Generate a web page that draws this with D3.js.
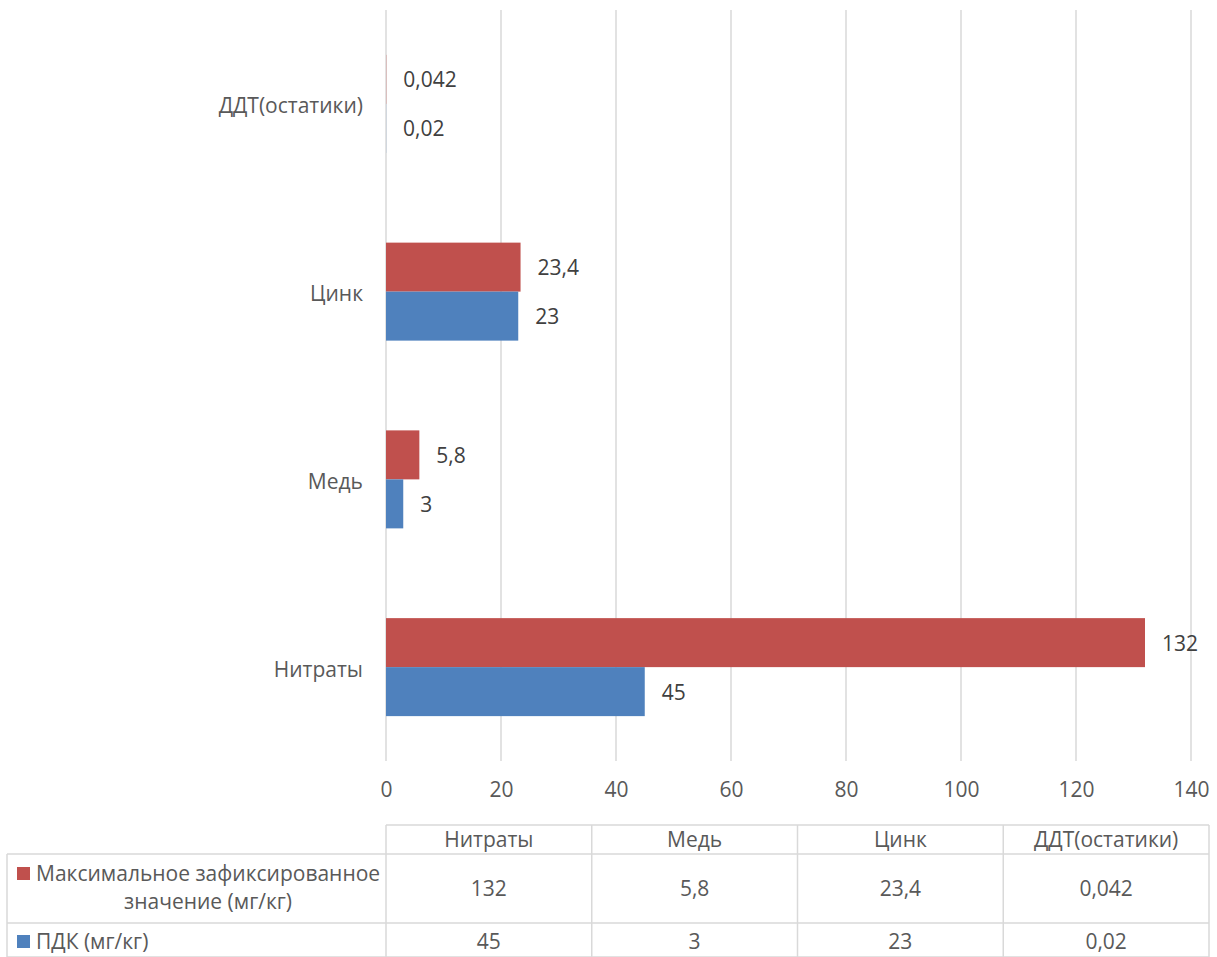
<!DOCTYPE html>
<html><head><meta charset="utf-8">
<script src="https://cdn.jsdelivr.net/npm/d3@7/dist/d3.min.js"></script>
<style>body{margin:0;background:#fff}svg{display:block;font-family:"Open Sans",sans-serif}</style>
</head><body><svg id="c" width="1217" height="957"></svg>
<script>
const categories = ["Нитраты","Медь","Цинк","ДДТ(остатики)"];
const seriesNames = ["Максимальное зафиксированное значение (мг/кг)","ПДК (мг/кг)"];
const maxValues = [132, 5.8, 23.4, 0.042];
const pdkValues = [45, 3, 23, 0.02];
const maxLabels = ["132","5,8","23,4","0,042"];
const pdkLabels = ["45","3","23","0,02"];
const xTicks = [0,20,40,60,80,100,120,140];
const colors = ["#C0504D","#4F81BD"];

(function(){
const svg = d3.select("#c");
const FS = 21;
const pL = 386, pR = 1191, pT = 10, pB = 761;
const x = d3.scaleLinear().domain([0,140]).range([pL,pR]);
const y0 = d3.scaleBand().domain(categories.slice().reverse()).range([pT,pB]);
const y1 = d3.scaleBand().domain([0,1]).range([0,y0.bandwidth()]).paddingOuter(0.916);

svg.append("g").selectAll("line").data(xTicks).join("line")
  .attr("x1",d=>x(d)).attr("x2",d=>x(d)).attr("y1",pT).attr("y2",pB)
  .attr("stroke","#D9D9D9").attr("stroke-width",1.5);

const xAxis = d3.axisBottom(x).tickValues(xTicks).tickSize(0).tickPadding(0);
const ax = svg.append("g").attr("transform",`translate(0,${pB})`).call(xAxis);
ax.select(".domain").remove();
ax.selectAll("text").attr("font-size",FS).attr("fill","#595959").attr("dy","0.35em").attr("y",29).style("font-family","Open Sans");

const yAxis = d3.axisLeft(y0).tickSize(0).tickPadding(23);
const ay = svg.append("g").attr("transform",`translate(${pL},0)`).call(yAxis);
ay.select(".domain").remove();
ay.selectAll("text").attr("font-size",FS).attr("fill","#595959").attr("dy","0.45em").style("font-family","Open Sans");

const data = categories.map((c,i)=>({c, vals:[maxValues[i],pdkValues[i]], labs:[maxLabels[i],pdkLabels[i]]}));
const g = svg.append("g");
data.forEach(d=>{
  [0,1].forEach(s=>{
    const yy = y0(d.c)+y1(s);
    g.append("rect").attr("x",x(0)).attr("y",yy).attr("width",x(d.vals[s])-x(0)).attr("height",y1.bandwidth())
      .attr("fill",colors[s]);
    g.append("text").attr("x",x(d.vals[s])+17).attr("y",yy+y1.bandwidth()/2).attr("dy","0.38em")
      .attr("font-size",FS).attr("fill","#404040").text(d.labs[s]);
  });
});

const tTop = 825, r1 = 854, r2 = 923, tBot = 957, tLeft = 7, tRight = 1209;
const colW = (tRight-pL)/categories.length;
const tc = "#D9D9D9";
const tg = svg.append("g").attr("stroke",tc).attr("stroke-width",1.5);
tg.append("line").attr("x1",pL).attr("x2",tRight).attr("y1",tTop).attr("y2",tTop);
[r1,r2].forEach(yv=>tg.append("line").attr("x1",tLeft).attr("x2",tRight).attr("y1",yv).attr("y2",yv));
tg.append("line").attr("x1",tLeft).attr("x2",tRight).attr("y1",tBot).attr("y2",tBot);
tg.append("line").attr("x1",tLeft).attr("x2",tLeft).attr("y1",r1).attr("y2",tBot);
d3.range(categories.length+1).forEach(i=>{
  tg.append("line").attr("x1",pL+i*colW).attr("x2",pL+i*colW).attr("y1",tTop).attr("y2",tBot);
});
const tt = svg.append("g").attr("font-size",FS).attr("fill","#595959").attr("text-anchor","middle");
categories.forEach((c,i)=>{
  const cx = pL+colW*(i+0.5);
  tt.append("text").attr("x",cx).attr("y",(tTop+r1)/2).attr("dy","0.35em").text(c);
  tt.append("text").attr("x",cx).attr("y",(r1+r2)/2).attr("dy","0.35em").text(maxLabels[i]);
  tt.append("text").attr("x",cx).attr("y",(r2+tBot)/2+2).attr("dy","0.35em").text(pdkLabels[i]);
});
svg.append("rect").attr("x",17).attr("y",867).attr("width",13).attr("height",13).attr("fill",colors[0]);
svg.append("rect").attr("x",17).attr("y",935).attr("width",13).attr("height",13).attr("fill",colors[1]);
const l1 = seriesNames[0].split(" ");
const t1 = tt.append("text").attr("text-anchor","start").attr("x",36).attr("y",874).attr("dy","0.35em").text(l1.slice(0,2).join(" "));
const w1 = t1.node().getComputedTextLength();
tt.append("text").attr("x",36+w1/2).attr("y",902).attr("dy","0.35em").text(l1.slice(2).join(" "));
tt.append("text").attr("text-anchor","start").attr("x",36).attr("y",942).attr("dy","0.35em").text(seriesNames[1]);
})();
</script></body></html>
